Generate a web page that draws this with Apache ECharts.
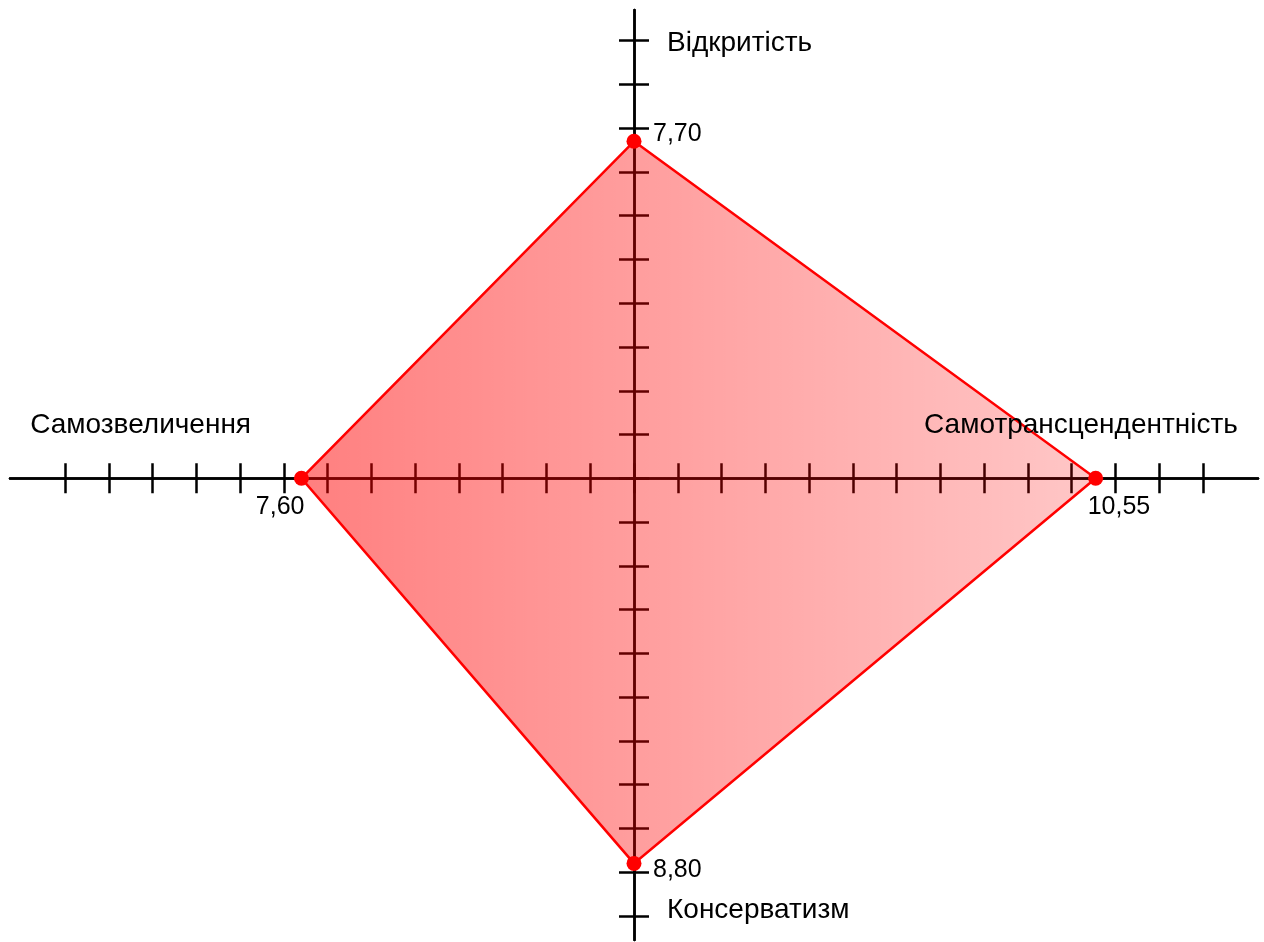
<!DOCTYPE html>
<html>
<head>
<meta charset="utf-8">
<script src="https://cdn.jsdelivr.net/npm/echarts@6/dist/echarts.min.js"></script>
<style>
    html, body { margin: 0; padding: 0; background: #fff; }
    #main { width: 1264px; height: 942px; }
</style>
</head>
<body>
<div id="main"></div>
<script>
// шкали: верх, право, низ, ліво
var scaleNames = ['Відкритість', 'Самотрансцендентність', 'Консерватизм', 'Самозвеличення'];
var scaleValues = [7.70, 10.55, 8.80, 7.60];
var scaleDirs = [[0, 1], [1, 0], [0, -1], [-1, 0]];
// де стоять підписи назв (точка на осі)
var nameAnchors = [[0, 10], [13, 0], [0, -10], [-13, 0]];
var xTickValues = [-13, -12, -11, -10, -9, -8, -7, -6, -5, -4, -3, -2, -1, 0, 1, 2, 3, 4, 5, 6, 7, 8, 9, 10, 11, 12, 13];
var yTickValues = [-10, -9, -8, -7, -6, -5, -4, -3, -2, -1, 0, 1, 2, 3, 4, 5, 6, 7, 8, 9, 10];

var FONT = '"Liberation Sans", Arial, sans-serif';

// вершини ромба
var vertices = [];
for (var i = 0; i < scaleValues.length; i++) {
    vertices.push([scaleDirs[i][0] * scaleValues[i], scaleDirs[i][1] * scaleValues[i]]);
}

function fmt(v) {
    return v.toFixed(2).replace('.', ',');
}

// зсуви підписів значень
var valueLabelStyle = [
    { align: 'left', offset: [19, -7] },
    { align: 'left', offset: [-8, 29] },
    { align: 'left', offset: [19, 7] },
    { align: 'right', offset: [3, 29] }
];
var nameLabelStyle = [
    { align: 'left', offset: [33, 3] },
    { align: 'right', offset: [35, -53] },
    { align: 'left', offset: [33, -6] },
    { align: 'left', offset: [-35, -53] }
];

var pointData = vertices.map(function (v, i) {
    return {
        value: v,
        label: {
            formatter: fmt(scaleValues[i]),
            align: valueLabelStyle[i].align,
            offset: valueLabelStyle[i].offset
        }
    };
});
var nameData = nameAnchors.map(function (v, i) {
    return {
        value: v,
        label: {
            formatter: scaleNames[i],
            align: nameLabelStyle[i].align,
            offset: nameLabelStyle[i].offset
        }
    };
});

function xAxisCfg(pos) {
    return {
        type: 'value',
        position: pos,
        min: -14.26,
        max: 14.26,
        axisLine: { show: true, onZero: true, lineStyle: { color: '#000', width: 2.5 } },
        axisTick: { show: true, inside: false, length: 15, customValues: xTickValues, lineStyle: { color: '#000', width: 2.5 } },
        axisLabel: { show: false },
        splitLine: { show: false }
    };
}
function yAxisCfg(pos) {
    return {
        type: 'value',
        position: pos,
        min: -10.55,
        max: 10.7,
        axisLine: { show: true, onZero: true, lineStyle: { color: '#000', width: 2.5 } },
        axisTick: { show: true, inside: false, length: 15, customValues: yTickValues, lineStyle: { color: '#000', width: 2.5 } },
        axisLabel: { show: false },
        splitLine: { show: false }
    };
}

var chart = echarts.init(document.getElementById('main'));

var option = {
    animation: false,
    backgroundColor: '#fff',
    grid: { left: 10, right: 6, top: 10, bottom: 2, containLabel: false },
    xAxis: [xAxisCfg('bottom'), xAxisCfg('top')],
    yAxis: [yAxisCfg('left'), yAxisCfg('right')],
    series: [{
        type: 'custom',
        coordinateSystem: 'cartesian2d',
        data: vertices,
        z: 3,
        renderItem: function (params, api) {
            if (params.dataIndex !== 0) return;
            var pts = vertices.map(function (v) { return api.coord(v); });
            return {
                type: 'polygon',
                shape: { points: pts },
                style: {
                    fill: new echarts.graphic.LinearGradient(0, 0, 1, 0, [
                        { offset: 0, color: 'rgba(255,0,0,0.5)' },
                        { offset: 1, color: 'rgba(255,0,0,0.22)' }
                    ]),
                    stroke: '#ff0000',
                    lineWidth: 2.5
                }
            };
        }
    }, {
        type: 'scatter',
        data: pointData,
        symbol: 'circle',
        symbolSize: 15,
        z: 4,
        itemStyle: { color: '#ff0000', opacity: 1 },
        label: {
            show: true,
            position: 'inside',
            verticalAlign: 'middle',
            color: '#000',
            fontSize: 25,
            fontFamily: FONT
        }
    }, {
        type: 'scatter',
        data: nameData,
        symbolSize: 0,
        z: 4,
        silent: true,
        itemStyle: { opacity: 1 },
        label: {
            show: true,
            position: 'inside',
            verticalAlign: 'middle',
            color: '#000',
            fontSize: 28,
            fontFamily: FONT
        }
    }]
};
chart.setOption(option);
</script>
</body>
</html>
